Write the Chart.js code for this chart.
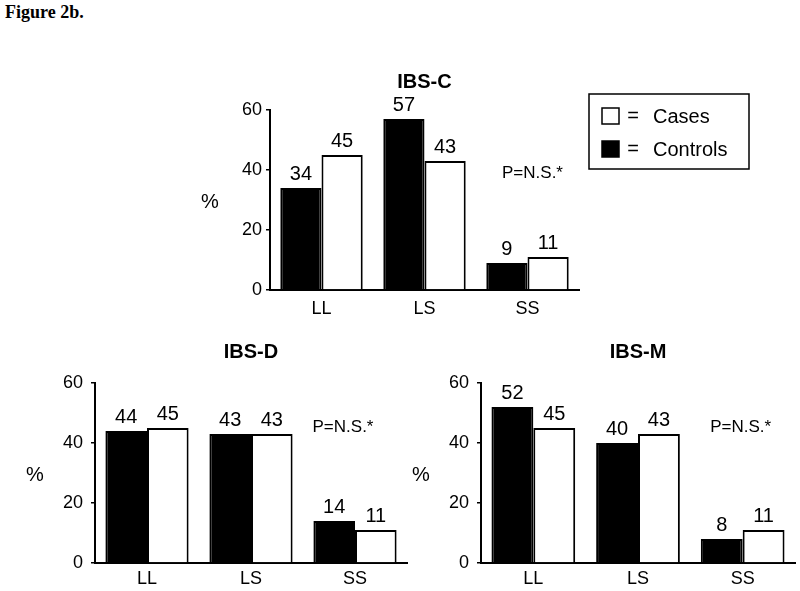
<!DOCTYPE html>
<html>
<head>
<meta charset="utf-8">
<script src="https://cdn.jsdelivr.net/npm/chart.js@4/dist/chart.umd.min.js"></script>
<style>
  html, body { margin: 0; padding: 0; background: #fff; }
  #wrap { position: relative; width: 800px; height: 591px; overflow: hidden; }
  #fig { position: absolute; left: 5px; top: 2px; font: bold 18px "Liberation Serif", "Times New Roman", serif; color: #000; }
  canvas { position: absolute; }
</style>
</head>
<body>
<div id="wrap">
  <div id="fig">Figure 2b.</div>
  <canvas id="chartC" width="610" height="270" style="left:180px;top:60px"></canvas>
  <canvas id="chartD" width="410" height="261" style="left:0px;top:330px"></canvas>
  <canvas id="chartM" width="400" height="261" style="left:400px;top:330px"></canvas>
</div>
<script>
const categories = ['LL', 'LS', 'SS'];
const seriesNames = ['Controls', 'Cases'];

const ibsCControls = [34, 57, 9];
const ibsCCases = [45, 43, 11];
const ibsDControls = [44, 43, 14];
const ibsDCases = [45, 43, 11];
const ibsMControls = [52, 40, 8];
const ibsMCases = [45, 43, 11];

const yMin = 0, yMax = 60, yStep = 20;
const pText = 'P=N.S.*';

const FONT = '"Liberation Sans", Arial, sans-serif';

// text drawn on top of the bars: values, title, %, p-value, legend
const annot = {
  id: 'annot',
  afterDatasetsDraw(chart, args, o) {
    const { ctx, chartArea: a, scales: { x, y } } = chart;
    ctx.save();
    ctx.fillStyle = '#000';
    ctx.textAlign = 'center';

    ctx.font = '20px ' + FONT;
    ctx.textBaseline = 'bottom';
    chart.data.datasets.forEach((ds, i) => {
      chart.getDatasetMeta(i).data.forEach((bar, j) => {
        ctx.fillText(ds.data[j], bar.x, bar.y - 4);
      });
    });

    ctx.textBaseline = 'middle';
    ctx.font = 'bold 20px ' + FONT;
    ctx.fillText(o.title, (a.left + a.right) / 2, a.top + o.titleDy);

    ctx.font = '20px ' + FONT;
    ctx.fillText('%', a.left - 60, (a.top + a.bottom) / 2 + 2);

    ctx.font = '17px ' + FONT;
    ctx.fillText(pText, x.getPixelForValue(2) + o.pDx, y.getPixelForValue(o.pY));

    if (o.legend) {
      const bx = a.right + 10, by = a.top - 16;
      ctx.lineWidth = 1.5;
      ctx.strokeStyle = '#000';
      ctx.strokeRect(bx, by, 160, 75);
      ctx.font = '20px ' + FONT;
      const items = chart.data.datasets.slice().reverse();
      items.forEach((ds, k) => {
        const ry = by + 14 + k * 33;
        ctx.fillStyle = ds.backgroundColor;
        ctx.fillRect(bx + 13, ry, 17, 16);
        ctx.strokeRect(bx + 13, ry, 17, 16);
        ctx.fillStyle = '#000';
        ctx.textAlign = 'center';
        ctx.fillText('=', bx + 44, ry + 8);
        ctx.textAlign = 'left';
        ctx.fillText(ds.label, bx + 64, ry + 9);
      });
    }
    ctx.restore();
  }
};

function makeChart(id, controls, cases, cfg) {
  return new Chart(document.getElementById(id), {
    type: 'bar',
    data: {
      labels: categories,
      datasets: [
        { label: seriesNames[0], data: controls, backgroundColor: '#000', borderColor: '#000', borderWidth: 2 },
        { label: seriesNames[1], data: cases, backgroundColor: '#fff', borderColor: '#000', borderWidth: 2 }
      ]
    },
    options: {
      responsive: false,
      animation: false,
      devicePixelRatio: 1,
      categoryPercentage: 0.8,
      barPercentage: 1,
      layout: { padding: { top: cfg.padTop, right: cfg.padRight, left: 0, bottom: 0 } },
      plugins: {
        legend: { display: false },
        tooltip: { enabled: false },
        annot: cfg
      },
      scales: {
        x: {
          grid: { display: false, drawTicks: false },
          border: { display: true, color: '#000', width: 2 },
          ticks: { color: '#000', font: { family: FONT, size: 18 }, padding: cfg.xPad },
          afterFit: s => { s.height = cfg.xHeight; }
        },
        y: {
          min: yMin, max: yMax,
          grid: { display: true, drawOnChartArea: false, drawTicks: true, tickLength: 4, color: '#000', lineWidth: 1.5 },
          border: { display: true, color: '#000', width: 2 },
          ticks: { stepSize: yStep, color: '#000', font: { family: FONT, size: 18 }, padding: cfg.yPad },
          afterFit: s => { s.width = cfg.yWidth; }
        }
      }
    },
    plugins: [annot]
  });
}

makeChart('chartC', ibsCControls, ibsCCases, {
  title: 'IBS-C', titleDy: -28, pDx: 5, pY: 39, legend: true,
  padTop: 50, padRight: 211, yWidth: 90, xHeight: 40, xPad: 8, yPad: 4
});
makeChart('chartD', ibsDControls, ibsDCases, {
  title: 'IBS-D', titleDy: -31, pDx: -12, pY: 45.3, legend: false,
  padTop: 53, padRight: 3, yWidth: 95, xHeight: 28, xPad: 5, yPad: 8
});
makeChart('chartM', ibsMControls, ibsMCases, {
  title: 'IBS-M', titleDy: -31, pDx: -2, pY: 45.3, legend: false,
  padTop: 53, padRight: 5, yWidth: 81, xHeight: 28, xPad: 5, yPad: 8
});
</script>
</body>
</html>
